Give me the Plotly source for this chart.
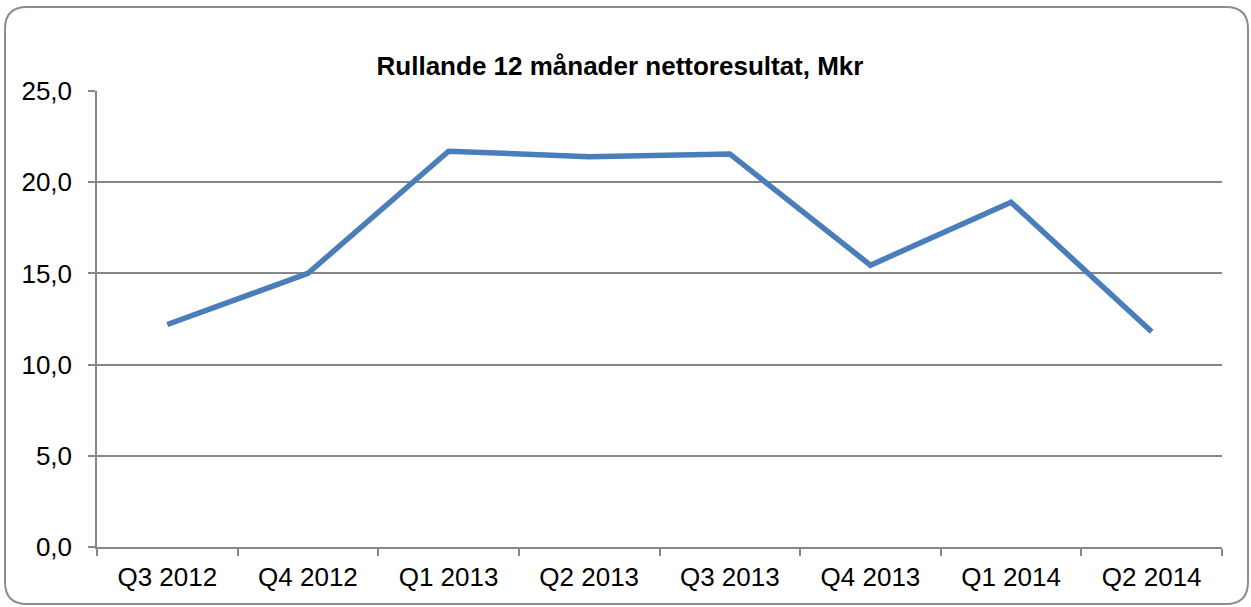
import plotly.graph_objects as go

categories = ["Q3 2012", "Q4 2012", "Q1 2013", "Q2 2013", "Q3 2013", "Q4 2013", "Q1 2014", "Q2 2014"]
values = [12.2, 15.0, 21.7, 21.4, 21.55, 15.45, 18.9, 11.8]
y_ticks = [0, 5, 10, 15, 20, 25]
y_tick_labels = ["0,0", "5,0", "10,0", "15,0", "20,0", "25,0"]
title_text = "Rullande 12 månader nettoresultat, Mkr"

W, H = 1251, 607
L, R, T, B = 97, 29, 91, 60
pw, ph = W - L - R, H - T - B

def px(x):
    return (x - L) / pw

def py(y):
    return (H - B - y) / ph

# rounded border (pixel geometry -> paper coords)
x0, y0, x1, y1, r = 5, 7, 1248, 604, 22
path = (
    f"M {px(x0 + r)},{py(y0)} L {px(x1 - r)},{py(y0)} "
    f"Q {px(x1)},{py(y0)} {px(x1)},{py(y0 + r)} "
    f"L {px(x1)},{py(y1 - r)} Q {px(x1)},{py(y1)} {px(x1 - r)},{py(y1)} "
    f"L {px(x0 + r)},{py(y1)} Q {px(x0)},{py(y1)} {px(x0)},{py(y1 - r)} "
    f"L {px(x0)},{py(y0 + r)} Q {px(x0)},{py(y0)} {px(x0 + r)},{py(y0)} Z"
)

fig = go.Figure()
fig.add_trace(go.Scatter(
    x=categories, y=values, mode="lines",
    line=dict(color="#4A7EBB", width=5.5),
    showlegend=False,
))

grid_col = "#868686"
fig.update_layout(
    width=W, height=H,
    margin=dict(l=L, r=R, t=T, b=B),
    paper_bgcolor="white", plot_bgcolor="white",
    font=dict(family="Liberation Sans, Arial, sans-serif", color="black"),
    title=dict(text="<b>" + title_text + "</b>", x=620 / W, xref="container", xanchor="center",
               y=1 - 66 / H, yref="container", yanchor="middle",
               font=dict(size=26, color="black")),
    xaxis=dict(
        type="category", tickson="boundaries", ticks="outside", ticklen=7,
        tickcolor=grid_col, tickwidth=1.5, showline=True, linecolor=grid_col, linewidth=1.5,
        showgrid=False, tickfont=dict(size=26), ticklabelstandoff=6,
        range=[-0.5, len(categories) - 0.5],
    ),
    yaxis=dict(
        range=[0, 25], tickvals=y_ticks, ticktext=y_tick_labels,
        ticks="outside", ticklen=7, tickcolor=grid_col, tickwidth=1.5,
        showline=True, linecolor=grid_col, linewidth=1.5,
        showgrid=True, gridcolor=grid_col, gridwidth=1.5, zeroline=False,
        tickfont=dict(size=26), ticklabelstandoff=11,
    ),
    shapes=[dict(type="path", path=path, xref="paper", yref="paper",
                 line=dict(color="#8c8c8c", width=2), layer="below")],
)

fig.write_html("out.html", config={"displayModeBar": False},
               post_script="document.body.style.margin='0';")
